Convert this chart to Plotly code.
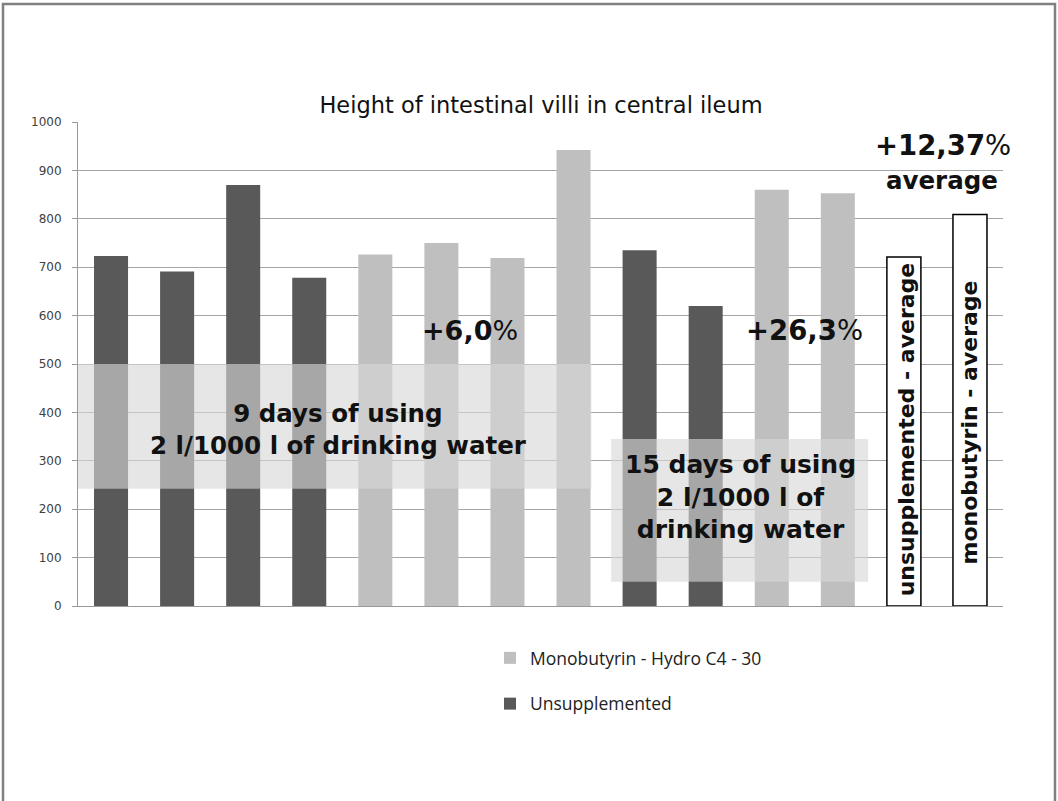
import plotly.graph_objects as go

# ---- data ----
unsup_x = [1, 2, 3, 4, 9, 10]
unsup_vals = [723, 691, 870, 678, 735, 620]
mono_x = [5, 6, 7, 8, 11, 12]
mono_vals = [726, 750, 719, 942, 860, 853]
avg_x = [13, 14]
avg_vals = [721, 809]
avg_labels = ["unsupplemented - average", "monobutyrin - average"]
series_names = ["Monobutyrin - Hydro C4 - 30", "Unsupplemented"]
y_ticks = [0, 100, 200, 300, 400, 500, 600, 700, 800, 900, 1000]

DARK = "#595959"
LIGHT = "#bfbfbf"
BW = 0.515

fig = go.Figure()
fig.add_trace(go.Bar(x=mono_x, y=mono_vals, name=series_names[0], width=BW,
                     marker=dict(color=LIGHT, line=dict(width=0)), legendgroup="m"))
fig.add_trace(go.Bar(x=unsup_x, y=unsup_vals, name=series_names[1], width=BW,
                     marker=dict(color=DARK, line=dict(width=0)), legendgroup="u"))
fig.add_trace(go.Bar(x=avg_x, y=avg_vals, width=BW, showlegend=False,
                     marker=dict(color="white", line=dict(color="black", width=1.5))))

BOLD = "DejaVu Sans, Arial, sans-serif"
ann = []
ann.append(dict(x=4.44, y=365, xref="x", yref="y", showarrow=False,
                text="<b>9 days of using<br>2 l/1000 l of drinking water</b>",
                font=dict(family=BOLD, size=24.5, color="#111")))
ann.append(dict(x=10.52, y=225, xref="x", yref="y", showarrow=False,
                text="<b>15 days of using<br>2 l/1000 l of<br>drinking water</b>",
                font=dict(family=BOLD, size=25, color="#111")))
ann.append(dict(x=6.43, y=570, xref="x", yref="y", showarrow=False,
                text="<b>+6,0</b>%", font=dict(family=BOLD, size=27, color="#111")))
ann.append(dict(x=11.5, y=570, xref="x", yref="y", showarrow=False,
                text="<b>+26,3</b>%", font=dict(family=BOLD, size=27.5, color="#111")))
ann.append(dict(x=13.59, y=952, xref="x", yref="y", showarrow=False,
                text="<b>+12,37</b>%", font=dict(family=BOLD, size=27.5, color="#111")))
ann.append(dict(x=13.58, y=880, xref="x", yref="y", showarrow=False,
                text="<b>average</b>", font=dict(family=BOLD, size=24.5, color="#111")))
ann.append(dict(x=13.04, y=364, xref="x", yref="y", showarrow=False, textangle=-90,
                text="<b>" + avg_labels[0] + "</b>", font=dict(family=BOLD, size=22, color="#111")))
ann.append(dict(x=14.0, y=379, xref="x", yref="y", showarrow=False, textangle=-90,
                text="<b>" + avg_labels[1] + "</b>", font=dict(family=BOLD, size=22, color="#111")))

shapes = [
    dict(type="rect", xref="x", yref="y", x0=0.5, x1=8.27, y0=242, y1=500,
         fillcolor="rgba(214,214,214,0.62)", line=dict(width=0), layer="above"),
    dict(type="rect", xref="x", yref="y", x0=8.57, x1=12.46, y0=50, y1=345,
         fillcolor="rgba(214,214,214,0.62)", line=dict(width=0), layer="above"),
    dict(type="rect", xref="paper", yref="paper", x0=(3 - 78) / 925, x1=(1055 - 78) / 925,
         y0=(606 - 815) / 484, y1=(606 - 4) / 484, line=dict(color="#808080", width=2.5),
         fillcolor="rgba(0,0,0,0)", layer="below"),
]

fig.update_layout(
    width=1058, height=801,
    margin=dict(l=78, r=55, t=122, b=195),
    paper_bgcolor="white", plot_bgcolor="white",
    barmode="overlay",
    title=dict(text="Height of intestinal villi in central ileum", x=541 / 1058, xanchor="center",
               y=1 - 105 / 801, yanchor="middle",
               font=dict(family="DejaVu Sans, Arial, sans-serif", size=22.5, color="#111")),
    xaxis=dict(range=[0.5, 14.5], showticklabels=False, ticks="", showgrid=False,
               showline=True, linecolor="#999999", linewidth=1, zeroline=False),
    yaxis=dict(range=[0, 1000], tickvals=y_ticks, showgrid=True, gridcolor="#a6a6a6",
               gridwidth=1, showline=True, linecolor="#999999", linewidth=1,
               ticks="outside", ticklen=5, tickcolor="#999999", zeroline=False,
               ticklabelstandoff=8,
               tickfont=dict(family="DejaVu Sans, Verdana, sans-serif", size=12, color="#404040")),
    legend=dict(x=(490 - 78) / 925, xanchor="left", y=(606 - 640) / 484, yanchor="top",
                tracegroupgap=20, font=dict(family="Open Sans, sans-serif", size=17.5, color="#222"),
                bgcolor="rgba(0,0,0,0)"),
    annotations=ann, shapes=shapes,
)

fig.write_html("out.html", config={"displayModeBar": False},
               post_script="document.body.style.margin='0px';")
